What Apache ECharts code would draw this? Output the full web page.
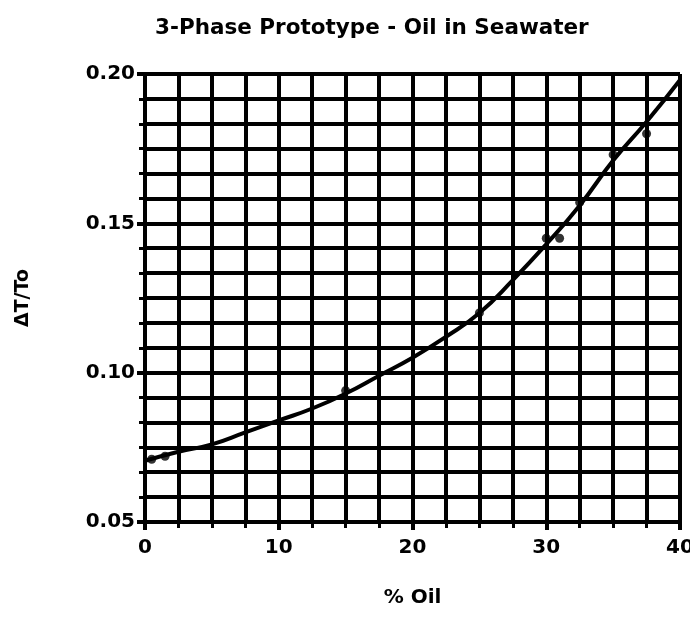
<!DOCTYPE html>
<html>
<head>
<meta charset="utf-8">
<script src="https://cdn.jsdelivr.net/npm/echarts@6/dist/echarts.min.js"></script>
<style>html,body{margin:0;padding:0;background:#fff;}#c{width:690px;height:617px;}</style>
</head>
<body>
<div id="c"></div>
<script>
const titleText = "3-Phase Prototype - Oil in Seawater";
const xName = "% Oil";
const yName = "ΔT/To";
const curveX = [0, 2.5, 5, 7.5, 10, 12.5, 15, 17.5, 20, 22.5, 25, 27.5, 30, 32.5, 35, 37.5, 40];
const curveY = [0.0705, 0.0735, 0.076, 0.080, 0.084, 0.088, 0.093, 0.099, 0.105, 0.112, 0.120, 0.131, 0.143, 0.156, 0.171, 0.184, 0.198];
const pointX = [0.5, 1.5, 15, 25, 30, 31, 32.5, 35, 37.5];
const pointY = [0.071, 0.072, 0.094, 0.120, 0.145, 0.145, 0.157, 0.173, 0.180];

const chart = echarts.init(document.getElementById('c'));
const font = "'DejaVu Sans', sans-serif";
chart.setOption({
  animation: false,
  backgroundColor: '#fff',
  title: {
    text: titleText, left: 150, top: 12,
    textStyle: { fontFamily: font, fontWeight: 'bold', fontSize: 21.5, color: '#000' }
  },
  grid: { left: 145, right: 10, top: 74, bottom: 95, outerBoundsMode: 'none', containLabel: false },
  xAxis: {
    type: 'value', min: 0, max: 40, interval: 10,
    name: xName, nameLocation: 'middle', nameGap: 66,
    nameTextStyle: { fontFamily: font, fontWeight: 'bold', fontSize: 20, color: '#000' },
    axisLine: { show: true, lineStyle: { color: '#000', width: 4 } },
    axisTick: { show: true, length: 8, inside: false, lineStyle: { color: '#000', width: 4 } },
    minorTick: { show: true, splitNumber: 4, length: 6, lineStyle: { color: '#000', width: 3 } },
    axisLabel: { fontFamily: font, fontWeight: 'bold', fontSize: 20, color: '#000', margin: 16 },
    splitLine: { show: true, lineStyle: { color: '#000', width: 4 } },
    minorSplitLine: { show: true, lineStyle: { color: '#000', width: 4 } }
  },
  yAxis: {
    type: 'value', min: 0.05, max: 0.20, interval: 0.05,
    name: yName, nameLocation: 'middle', nameGap: 112, nameRotate: 90,
    nameTextStyle: { fontFamily: font, fontWeight: 'bold', fontSize: 19, color: '#000' },
    axisLine: { show: true, lineStyle: { color: '#000', width: 4 } },
    axisTick: { show: true, length: 8, lineStyle: { color: '#000', width: 4 } },
    minorTick: { show: true, splitNumber: 6, length: 6, lineStyle: { color: '#000', width: 3 } },
    axisLabel: { fontFamily: font, fontWeight: 'bold', fontSize: 20, color: '#000', margin: 10,
      formatter: v => v.toFixed(2) },
    splitLine: { show: true, lineStyle: { color: '#000', width: 4 } },
    minorSplitLine: { show: true, lineStyle: { color: '#000', width: 4 } }
  },
  series: [
    {
      type: 'line', smooth: true, symbol: 'none',
      data: curveX.map((x, i) => [x, curveY[i]]),
      lineStyle: { color: '#000', width: 4 }
    },
    {
      type: 'scatter', symbol: 'circle', symbolSize: 9,
      data: pointX.map((x, i) => [x, pointY[i]]),
      itemStyle: { color: '#000' }
    }
  ]
});
</script>
</body>
</html>
